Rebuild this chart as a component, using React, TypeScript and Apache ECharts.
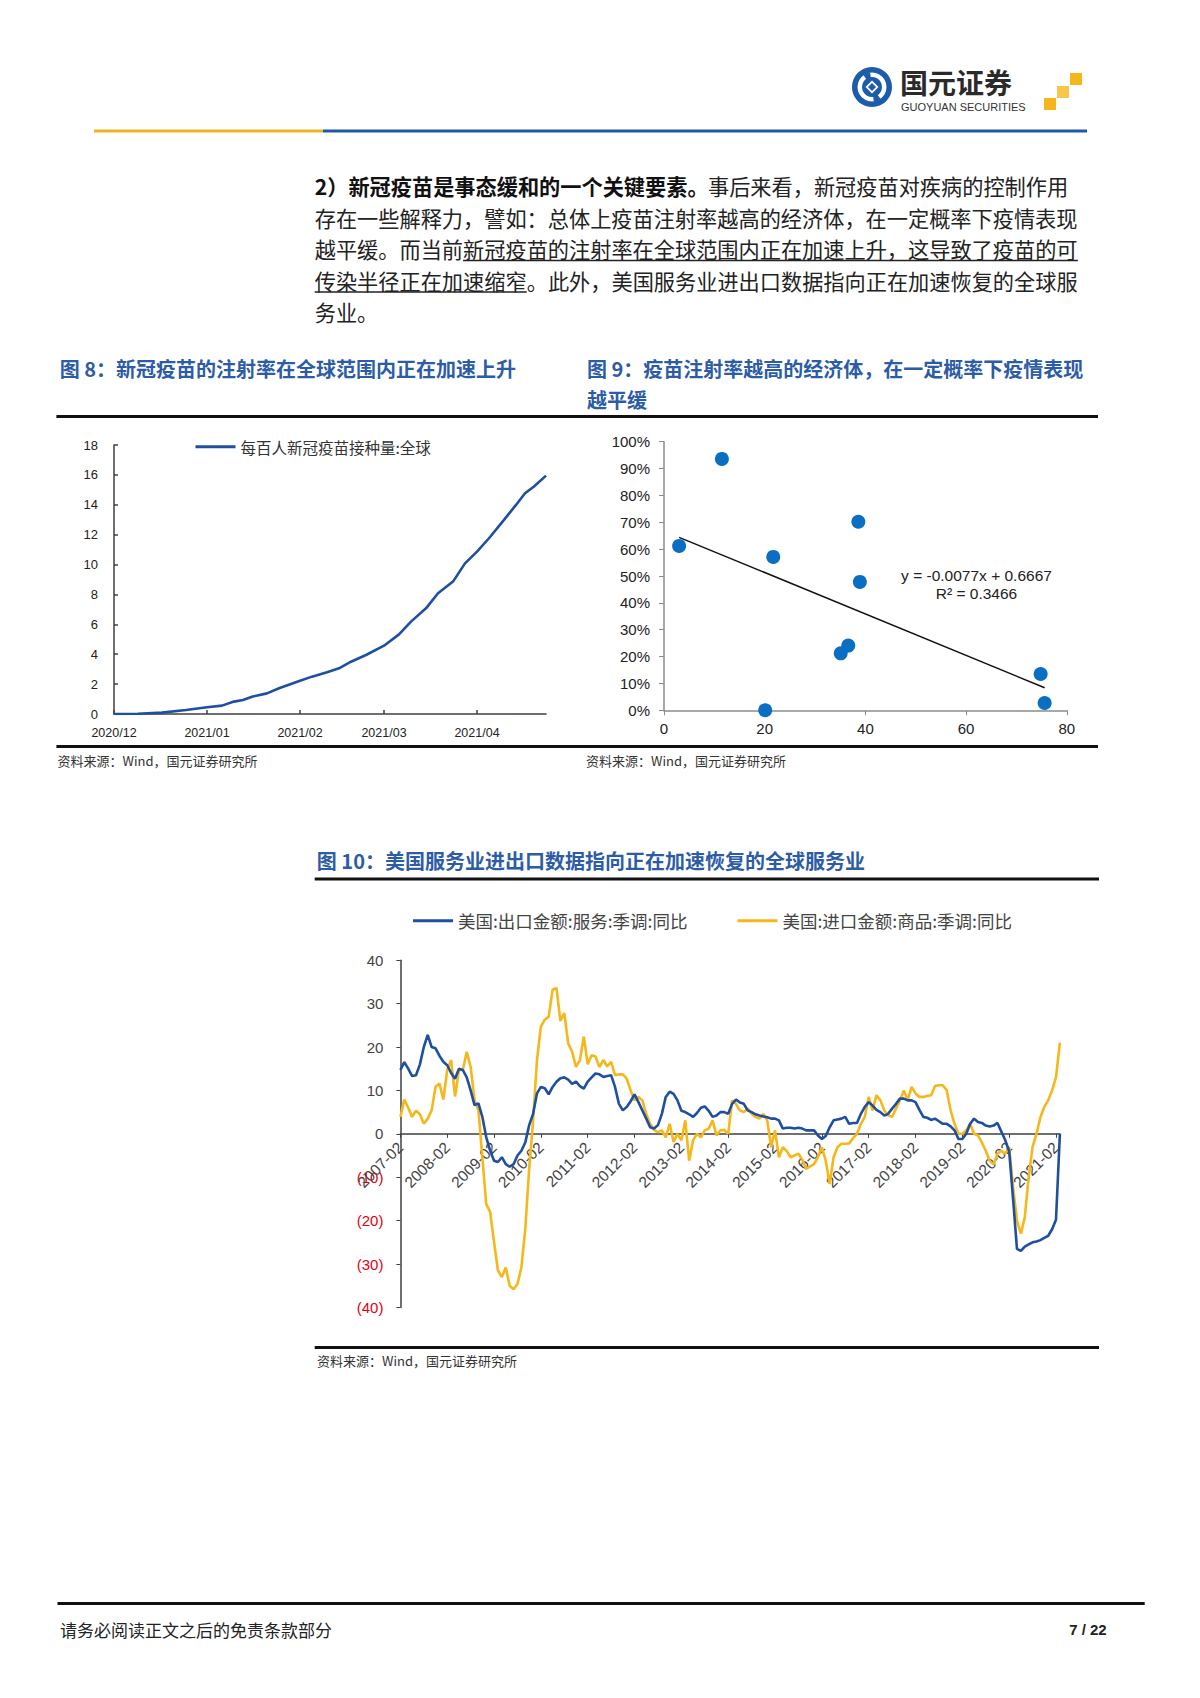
import React, { useEffect, useRef } from "react";
import * as echarts from "echarts";

// ---------- Figure 8: doses per hundred people (global) ----------
const vaccDates = [
  "2020-12-01", "2020-12-09", "2020-12-17", "2020-12-25", "2021-01-01", "2021-01-06",
  "2021-01-10", "2021-01-13", "2021-01-16", "2021-01-21", "2021-01-25", "2021-02-01",
  "2021-02-05", "2021-02-10", "2021-02-14", "2021-02-18", "2021-02-23", "2021-03-01",
  "2021-03-06", "2021-03-10", "2021-03-15", "2021-03-19", "2021-03-24", "2021-03-28",
  "2021-04-01", "2021-04-05", "2021-04-10", "2021-04-14", "2021-04-17", "2021-04-20",
  "2021-04-24",
];
const vaccValues = [
  0, 0.02, 0.09, 0.27, 0.45, 0.56, 0.83, 0.94, 1.16, 1.38, 1.72, 2.23, 2.5, 2.79, 3.06,
  3.5, 3.95, 4.57, 5.33, 6.18, 7.07, 8.08, 8.86, 10.08, 10.87, 11.76, 12.99, 13.99, 14.77,
  15.22, 15.95,
];
const vaccTickDates = ["2020-12-01", "2021-01-01", "2021-02-01", "2021-03-01", "2021-04-01"];
const vaccTickLabels = ["2020/12", "2021/01", "2021/02", "2021/03", "2021/04"];
const vaccAxisMin = "2020-12-01";
const vaccAxisMax = "2021-04-24";
const vaccSeriesName = "每百人新冠疫苗接种量:全球";

// ---------- Figure 9: vaccination vs. epidemic ----------
const scatterX = [3.0, 11.5, 21.7, 20.1, 38.6, 38.9, 35.1, 36.6, 74.8, 75.6];
const scatterY = [0.612, 0.936, 0.571, 0.0, 0.702, 0.478, 0.212, 0.241, 0.135, 0.027];
const trendX = [3.0, 75.6];
const trendY = [0.644, 0.084];
const trendEquation = "y = -0.0077x + 0.6667";
const trendR2 = "R² = 0.3466";

// ---------- Figure 10: US trade YoY ----------
const tradeFirstYear = 2007;
const tradeFirstMonth = 2;
const servicesExportYoY = [
  14.7, 16.5, 15, 13.3, 13.5, 16, 20, 22.8, 20, 19.7,
  18, 16.6, 15.8, 14, 12.7, 15, 14.7, 13, 10, 6.6,
  7, 3.9, -0.8, -3.9, -6.2, -6.5, -5.4, -7, -7.6, -7,
  -5, -3.9, -2, 2, 4.6, 9.3, 10.8, 10.5, 9.1, 10.8,
  12, 12.8, 13, 12.5, 11.5, 12, 11, 10.4, 12, 13,
  13.9, 13.7, 13.1, 13.3, 13.5, 10.8, 6.9, 5.4, 6.2, 7.5,
  9.1, 7.3, 5.4, 3.5, 1.5, 1.2, 2, 4.6, 8.5, 9.7,
  9.2, 7.7, 5.3, 5, 4.5, 3.9, 4.8, 6, 6.3, 5.3,
  3.9, 4.2, 5, 5, 4.6, 6.9, 7.9, 7.2, 6.9, 5.4,
  5, 4.5, 4.2, 4, 3.8, 3.5, 3.5, 3.1, 1.2, 1.4,
  1.4, 1.2, 1.4, 1.2, 0.8, 0.8, 0.8, -0.4, -1.2, -0.5,
  1.5, 3.1, 3.3, 3.5, 3.9, 2.3, 2.5, 2.5, 4.6, 6.2,
  7.3, 6.5, 5.5, 5, 4.2, 4.6, 5.8, 6.9, 8.1, 8.1,
  7.7, 7.7, 7.3, 5.5, 3.9, 3.7, 3.2, 3.5, 2.9, 2.3,
  2.3, 1.7, 0.8, -1.2, -1.2, 0, 2.3, 3.5, 2.7, 2.5,
  1.9, 1.7, 1.9, 2.5, 0.5, -1.5, -4, -15, -26.5, -27,
  -26, -25.5, -25, -24.8, -24.5, -24, -23.5, -22, -19.8, 0,
];
const goodsImportYoY = [
  3.9, 7.9, 6, 3.9, 5.3, 4.5, 2.3, 3.5, 5.4, 10.8,
  11.6, 7.9, 14.7, 17, 8.6, 14.7, 14.7, 18.9, 15.4, 7.7,
  5.4, -5.4, -16.2, -18, -25, -31.5, -33, -30.8, -35, -35.8,
  -34.6, -30.8, -22, -8, 3, 17, 24.7, 26.3, 27, 33.2,
  33.6, 26, 27.8, 20.8, 18.9, 15.4, 17, 22.4, 16, 18.1,
  17.8, 15.4, 17, 15.5, 16.6, 13.5, 13.7, 13.7, 12.7, 10,
  7.7, 8.5, 7.7, 4.6, 2.3, 0.9, 0.4, 0.8, -0.8, 2.3,
  -1.9, 0, -1.5, 3.1, -6.2, -1.5, 0, -0.8, 0.8, 1.2,
  3.1, -0.4, 0.8, 0.9, 0, 7.7, 6.9, 5.4, 5, 5.8,
  4.6, 3.9, 3.5, 4.6, 3.1, -3.1, 0.8, -5.4, -3.1, -4,
  -5.4, -5, -4.6, -6, -8.1, -7.5, -7, -5.4, -3.1, -6.2,
  -11.6, -5.4, -3.1, -2.3, -2.3, -2.2, -1, 0, 2.3, 3.9,
  8.5, 5.4, 8.9, 7.7, 5.4, 4.2, 3.9, 5.8, 7.7, 10,
  7.7, 10.8, 9.3, 8.5, 8.5, 8.7, 8.9, 11, 11.2, 11.2,
  10, 5.4, 2.3, 0, 0, 0.8, 2.3, 0, -0.4, -2,
  -3.9, -6.2, -7, -4.6, -3.9, -4.6, -3, -12.3, -20, -23,
  -19.2, -10, -3, 0, 3.8, 6.2, 7.7, 10, 13, 21,
];
const tradeSeriesNames = ["美国:出口金额:服务:季调:同比", "美国:进口金额:商品:季调:同比"];

// ---------- page texts ----------
const paraBold = "2）新冠疫苗是事态缓和的一个关键要素。";
const paraLine1 = "事后来看，新冠疫苗对疾病的控制作用";
const paraLine2 = "存在一些解释力，譬如：总体上疫苗注射率越高的经济体，在一定概率下疫情表现";
const paraLine3a = "越平缓。而当前";
const paraLine3b = "新冠疫苗的注射率在全球范围内正在加速上升，这导致了疫苗的可";
const paraLine4a = "传染半径正在加速缩窄";
const paraLine4b = "。此外，美国服务业进出口数据指向正在加速恢复的全球服";
const paraLine5 = "务业。";
const fig8Title = "图 8：新冠疫苗的注射率在全球范围内正在加速上升";
const fig9Title1 = "图 9：疫苗注射率越高的经济体，在一定概率下疫情表现";
const fig9Title2 = "越平缓";
const fig10Title = "图 10：美国服务业进出口数据指向正在加速恢复的全球服务业";
const sourceText = "资料来源：Wind，国元证券研究所";
const footerText = "请务必阅读正文之后的免责条款部分";
const pageText = "7 / 22";

const CJK = "Noto Sans CJK SC";
const LAT = "Liberation Sans, Arial, sans-serif";
const BLUE = "#1F4FA0";
const YELLOW = "#F5B71A";
const TITLE = "#2D5CA6";
const AXIS = "#404040";

function dayIndex(s: string): number {
  const [y, m, d] = s.split("-").map(Number);
  const [y0, m0, d0] = vaccAxisMin.split("-").map(Number);
  return Math.round((Date.UTC(y, m - 1, d) - Date.UTC(y0, m0 - 1, d0)) / 86400000);
}

export default function App() {
  const ref = useRef<HTMLDivElement>(null);

  useEffect(() => {
    if (!ref.current) return;
    const chart = echarts.init(ref.current, undefined, { renderer: "svg" });

    const tradeCats: string[] = [];
    for (let i = 0; i < servicesExportYoY.length; i++) {
      const mm = tradeFirstMonth - 1 + i;
      const y = tradeFirstYear + Math.floor(mm / 12);
      const m = (mm % 12) + 1;
      tradeCats.push(`${y}-${m < 10 ? "0" + m : m}`);
    }
    const tickDays = vaccTickDates.map(dayIndex);

    const txt = (x: number, y: number, text: string, o: any = {}) => ({
      type: "text",
      x,
      y,
      style: {
        text,
        fontSize: o.fontSize ?? 21,
        fontFamily: o.fontFamily ?? CJK,
        fontWeight: o.fontWeight ?? "normal",
        fill: o.fill ?? "#222",
        textAlign: o.align ?? "left",
        textVerticalAlign: "middle",
      },
    });
    const hline = (x1: number, x2: number, y: number, color: string, w: number) => ({
      type: "line",
      shape: { x1, y1: y, x2, y2: y },
      style: { stroke: color, lineWidth: w },
    });

    const pLeft = 314.7;
    const fs = 21.2;
    const pY = 185.5;
    const pStep = 31.5;
    const graphic: any[] = [
      {
        type: "group",
        x: 872,
        y: 87,
        children: [
          { type: "circle", shape: { cx: 0, cy: 0, r: 20 }, style: { fill: "#1D5CAA" } },
          { type: "ring", shape: { cx: 0, cy: 0, r: 14.5, r0: 10 }, style: { fill: "#fff" } },
          {
            type: "sector",
            shape: { cx: 0, cy: 0, r: 15, r0: 9, startAngle: -2.2, endAngle: -1.7 },
            style: { fill: "#1D5CAA" },
          },
          {
            type: "sector",
            shape: { cx: 0, cy: 0, r: 15, r0: 9, startAngle: 0.95, endAngle: 1.45 },
            style: { fill: "#1D5CAA" },
          },
          { type: "polygon", shape: { points: [[0, -6.5], [6.5, 0], [0, 6.5], [-6.5, 0]] }, style: { fill: "#fff" } },
          { type: "polygon", shape: { points: [[0, -4], [4, 0], [0, 4], [-4, 0]] }, style: { fill: "#1D5CAA" } },
        ],
      },
      txt(900, 82, "国元证券", { fontSize: 28, fontWeight: "bold", fill: "#2a2a2a" }),
      txt(901, 107, "GUOYUAN SECURITIES", { fontSize: 11, fontFamily: LAT, fill: "#333" }),
      { type: "rect", shape: { x: 1070, y: 73, width: 12, height: 12 }, style: { fill: "#F5B51C" } },
      { type: "rect", shape: { x: 1057, y: 86, width: 12, height: 12 }, style: { fill: "#F8C648" } },
      { type: "rect", shape: { x: 1044, y: 98, width: 12, height: 12 }, style: { fill: "#F5B51C" } },
      hline(94, 323, 131, "#E9B526", 3),
      hline(323, 1087, 131, "#1F5AA6", 3),

      txt(pLeft, pY, paraBold, { fontSize: fs, fontWeight: "bold", fill: "#111" }),
      txt(pLeft + 18.55 * fs, pY, paraLine1, { fontSize: fs }),
      txt(pLeft, pY + pStep, paraLine2, { fontSize: fs }),
      txt(pLeft, pY + 2 * pStep, paraLine3a, { fontSize: fs }),
      txt(pLeft + 7 * fs, pY + 2 * pStep, paraLine3b, { fontSize: fs }),
      hline(pLeft + 7 * fs, pLeft + 36 * fs, pY + 2 * pStep + 12, "#222", 1.3),
      txt(pLeft, pY + 3 * pStep, paraLine4a, { fontSize: fs }),
      txt(pLeft + 10 * fs, pY + 3 * pStep, paraLine4b, { fontSize: fs }),
      hline(pLeft, pLeft + 10 * fs, pY + 3 * pStep + 12, "#222", 1.3),
      txt(pLeft, pY + 4 * pStep, paraLine5, { fontSize: fs }),

      txt(59.7, 368, fig8Title, { fontSize: 20, fontWeight: "bold", fill: TITLE }),
      txt(587, 368, fig9Title1, { fontSize: 20, fontWeight: "bold", fill: TITLE }),
      txt(587, 399.5, fig9Title2, { fontSize: 20, fontWeight: "bold", fill: TITLE }),
      hline(56.4, 1098, 416.6, "#111", 3),
      hline(56.4, 1098, 746.5, "#111", 3),
      txt(57.5, 760.5, sourceText, { fontSize: 13, fill: "#333" }),
      txt(586, 760.5, sourceText, { fontSize: 13, fill: "#333" }),
      txt(976.5, 575, trendEquation, { fontSize: 15.5, fontFamily: LAT, fill: "#222", align: "center" }),
      txt(976.5, 593, trendR2, { fontSize: 15.5, fontFamily: LAT, fill: "#222", align: "center" }),

      txt(316.8, 860.5, fig10Title, { fontSize: 20, fontWeight: "bold", fill: TITLE }),
      hline(314.7, 1099, 879, "#111", 3),
      hline(314.7, 1099, 1347.6, "#111", 3),
      txt(317, 1360.5, sourceText, { fontSize: 13, fill: "#333" }),

      hline(57.5, 1144.7, 1603.5, "#111", 3),
      txt(60, 1629, footerText, { fontSize: 17, fill: "#222" }),
      txt(1106.7, 1629, pageText, { fontSize: 15, fontFamily: LAT, fontWeight: "bold", fill: "#222", align: "right" }),
    ];

    const latLabel = (size: number) => ({ fontFamily: LAT, fontSize: size, color: "#222" });
    const g2Top = 960.2;
    const g2Height = 347.2;

    const option: any = {
      animation: false,
      backgroundColor: "#fff",
      graphic,
      legend: [
        {
          data: [vaccSeriesName],
          left: 190.5,
          top: 434,
          icon: "rect",
          itemWidth: 40,
          itemHeight: 3,
          textStyle: { fontFamily: CJK, fontSize: 15.5, color: "#333" },
        },
        {
          data: tradeSeriesNames,
          left: 408,
          top: 907,
          icon: "rect",
          itemWidth: 40,
          itemHeight: 3,
          itemGap: 50,
          textStyle: { fontFamily: CJK, fontSize: 17.5, color: "#444" },
        },
      ],
      grid: [
        { left: 114, top: 445, width: 432, height: 269, containLabel: false },
        { left: 664, top: 441.7, width: 402.8, height: 268.6, containLabel: false },
        { left: 400.4, top: g2Top, width: 659.5, height: g2Height, containLabel: false },
      ],
      xAxis: [
        {
          type: "value",
          gridIndex: 0,
          min: 0,
          max: dayIndex(vaccAxisMax),
          axisLine: { show: true, lineStyle: { color: AXIS, width: 1.5 } },
          axisTick: { show: true, inside: true, length: 4, customValues: tickDays, lineStyle: { color: AXIS, width: 1.5 } },
          axisLabel: {
            ...latLabel(12.5),
            margin: 12,
            customValues: tickDays,
            showMinLabel: true,
            formatter: (v: number) => {
              const i = tickDays.indexOf(Math.round(v));
              return i >= 0 ? vaccTickLabels[i] : "";
            },
          },
          splitLine: { show: false },
        },
        {
          type: "value",
          gridIndex: 1,
          min: 0,
          max: 80,
          interval: 20,
          axisLine: { show: true, lineStyle: { color: "#8c8c8c", width: 1.5 } },
          axisTick: { show: true, inside: false, length: 5, lineStyle: { color: "#8c8c8c" } },
          axisLabel: { ...latLabel(15), margin: 11 },
          splitLine: { show: false },
        },
        {
          type: "category",
          gridIndex: 2,
          data: tradeCats,
          boundaryGap: false,
          position: "bottom",
          offset: -g2Height / 2,
          axisLine: { show: true, onZero: false, lineStyle: { color: AXIS, width: 1.5 } },
          axisTick: { show: true, interval: 11, length: 4, lineStyle: { color: AXIS } },
          axisLabel: { ...latLabel(15.5), color: "#444", interval: 11, rotate: 45, margin: 11 },
          splitLine: { show: false },
        },
      ],
      yAxis: [
        {
          type: "value",
          gridIndex: 0,
          min: 0,
          max: 18,
          interval: 2,
          axisLine: { show: true, lineStyle: { color: AXIS, width: 1.5 } },
          axisTick: { show: true, inside: true, length: 4, lineStyle: { color: AXIS, width: 1.5 } },
          axisLabel: { ...latLabel(13), margin: 16 },
          splitLine: { show: false },
        },
        {
          type: "value",
          gridIndex: 1,
          min: 0,
          max: 1,
          interval: 0.1,
          axisLine: { show: true, lineStyle: { color: "#8c8c8c", width: 1.5 } },
          axisTick: { show: true, inside: false, length: 5, lineStyle: { color: "#8c8c8c" } },
          axisLabel: { ...latLabel(15), margin: 14, formatter: (v: number) => `${Math.round(v * 100)}%` },
          splitLine: { show: false },
        },
        {
          type: "value",
          gridIndex: 2,
          min: -40,
          max: 40,
          interval: 10,
          axisLine: { show: true, lineStyle: { color: AXIS, width: 1.5 } },
          axisTick: { show: true, length: 4, lineStyle: { color: AXIS } },
          axisLabel: {
            ...latLabel(15),
            margin: 17,
            formatter: (v: number) => (v < 0 ? `(${-v})` : `${v}`),
            color: (v: any) => (Number(v) < 0 ? "#E60012" : "#444"),
          },
          splitLine: { show: false },
        },
      ],
      series: [
        {
          name: vaccSeriesName,
          type: "line",
          xAxisIndex: 0,
          yAxisIndex: 0,
          data: vaccDates.map((d, i) => [dayIndex(d), vaccValues[i]]),
          showSymbol: false,
          symbol: "none",
          lineStyle: { color: BLUE, width: 2.6 },
          itemStyle: { color: BLUE },
        },
        {
          name: "scatter",
          type: "scatter",
          xAxisIndex: 1,
          yAxisIndex: 1,
          data: scatterX.map((x, i) => [x, scatterY[i]]),
          symbolSize: 14,
          itemStyle: { color: "#0A6FC2", opacity: 1 },
        },
        {
          name: "trend",
          type: "line",
          xAxisIndex: 1,
          yAxisIndex: 1,
          data: trendX.map((x, i) => [x, trendY[i]]),
          showSymbol: false,
          symbol: "none",
          lineStyle: { color: "#111", width: 1.5 },
          z: 1,
        },
        {
          name: tradeSeriesNames[0],
          type: "line",
          xAxisIndex: 2,
          yAxisIndex: 2,
          data: servicesExportYoY,
          showSymbol: false,
          symbol: "none",
          lineStyle: { color: BLUE, width: 2.6 },
          itemStyle: { color: BLUE },
          z: 3,
        },
        {
          name: tradeSeriesNames[1],
          type: "line",
          xAxisIndex: 2,
          yAxisIndex: 2,
          data: goodsImportYoY,
          showSymbol: false,
          symbol: "none",
          lineStyle: { color: YELLOW, width: 2.6 },
          itemStyle: { color: YELLOW },
          z: 2,
        },
      ],
    };

    chart.setOption(option);
    return () => chart.dispose();
  }, []);

  return (
    <div
      ref={ref}
      style={{ position: "absolute", left: 0, top: 0, width: 1200, height: 1698, background: "#fff" }}
    />
  );
}
